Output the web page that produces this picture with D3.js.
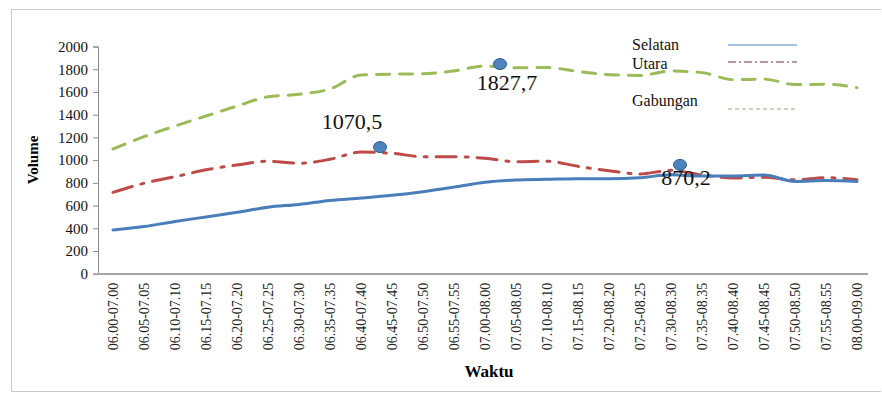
<!DOCTYPE html>
<html><head><meta charset="utf-8">
<script src="https://cdn.jsdelivr.net/npm/d3@7"></script>
<style>body{margin:0;background:#fff}svg{display:block}text{font-family:'Liberation Serif','Times New Roman',serif}</style>
</head><body>
<svg id="c" width="882" height="394"></svg>
<script>
const categories = ["06.00-07.00","06.05-07.05","06.10-07.10","06.15-07.15","06.20-07.20","06.25-07.25","06.30-07.30","06.35-07.35","06.40-07.40","06.45-07.45","06.50-07.50","06.55-07.55","07.00-08.00","07.05-08.05","07.10-08.10","07.15-08.15","07.20-08.20","07.25-08.25","07.30-08.30","07.35-08.35","07.40-08.40","07.45-08.45","07.50-08.50","07.55-08.55","08.00-09.00"];
const selatan  = [385,415,460,500,540,585,610,645,666,690,722,762,805,825,831,836,836,845,870.2,860,860,868,812,820,812];
const utara    = [716,796,854,915,957,990,972,1007,1070.5,1060,1030,1030,1016,986,990,945,907,878,910,870,842,849,826,845,826];
const gabungan = [1098,1206,1300,1388,1476,1558,1579,1626,1749,1757,1760,1785,1827.7,1812,1815,1780,1752,1745,1785,1770,1708,1713,1665,1668,1637];
const yTicks = [0,200,400,600,800,1000,1200,1400,1600,1800,2000];
const seriesNames = ["Selatan","Utara","Gabungan"];
const annotations = [
  {series:"utara", index:8, label:"1070,5"},
  {series:"gabungan", index:12, label:"1827,7"},
  {series:"selatan", index:18, label:"870,2"}
];

const svg = d3.select("#c");
const font = "'Liberation Serif','Times New Roman',serif";
const x = d3.scalePoint().domain(categories).range([113, 857]);
const y = d3.scaleLinear().domain([0, 2000]).range([273.7, 46.5]);

// frame
svg.append("path").attr("d","M881,9.5H11.5V391.5H881").attr("fill","none").attr("stroke","#c8c8c8").attr("stroke-width",1);

// y axis
const ya = svg.append("g").attr("transform","translate(98,0)")
  .call(d3.axisLeft(y).tickValues(yTicks).tickFormat(d3.format("d")).tickSize(5).tickPadding(5));
ya.attr("font-family",null);
ya.select(".domain").attr("stroke","#8a8a8a");
ya.selectAll(".tick line").attr("stroke","#8a8a8a");
ya.selectAll("text").style("font-family",font).style("font-size","15px").attr("fill","#111");

// x axis
const xa = svg.append("g").attr("transform","translate(0,273.7)").call(d3.axisBottom(x).tickSize(0).tickPadding(0));
xa.attr("font-family",null);
xa.select(".domain").remove();
svg.append("line").attr("x1",98).attr("x2",868).attr("y1",274).attr("y2",274).attr("stroke","#a6a6a6").attr("stroke-width",2);
xa.selectAll("text").style("font-family",font).style("font-size","14px").attr("fill","#222")
  .attr("text-anchor","end").attr("transform","translate(0,9) rotate(-90)").attr("x",0).attr("y",0).attr("dy","0.33em");

// axis titles
svg.append("text").attr("transform","translate(38,160) rotate(-90)").attr("text-anchor","middle")
  .style("font-family",font).attr("font-weight","bold").attr("font-size",15).text("Volume");
svg.append("text").attr("x",489).attr("y",377).attr("text-anchor","middle")
  .style("font-family",font).attr("font-weight","bold").attr("font-size",17).text("Waktu");

const data = {selatan, utara, gabungan};
const styles = {
  selatan:{color:"#4a7ebb", dash:null},
  utara:{color:"#be4b48", dash:"20,9,3,9"},
  gabungan:{color:"#9bbb59", dash:"13,10"}
};
const line = d3.line().x((d,i)=>x(categories[i])).y(d=>y(d)).curve(d3.curveMonotoneX);
["gabungan","utara","selatan"].forEach(k=>{
  svg.append("path").datum(data[k]).attr("d",line).attr("fill","none")
    .attr("stroke",styles[k].color).attr("stroke-width",3).attr("stroke-linecap","round")
    .attr("stroke-dasharray",styles[k].dash);
});

// annotations
const dotOff = {utara:[19,-5], gabungan:[15,-2], selatan:[9,-10]};
const labOff = {utara:[-9,-23], gabungan:[22,24], selatan:[15,10]};
annotations.forEach(a=>{
  const px = x(categories[a.index]), py = y(data[a.series][a.index]);
  svg.append("ellipse").attr("cx",px+dotOff[a.series][0]).attr("cy",py+dotOff[a.series][1])
    .attr("rx",6.5).attr("ry",5.5).attr("fill","#4f81bd").attr("stroke","#2f5f96").attr("stroke-width",1);
  svg.append("text").attr("x",px+labOff[a.series][0]).attr("y",py+labOff[a.series][1])
    .attr("text-anchor","middle").style("font-family",font).attr("font-size",22).attr("fill","#111").text(a.label);
});

// legend
const legY = [45, 62, 109];
const legTextY = [50, 69, 106];
const legStroke = [{c:"#4f81bd",d:null},{c:"#6b3a3a",d:"8,3,2,3"},{c:"#9aab78",d:"4,3"}];
seriesNames.forEach((n,i)=>{
  svg.append("text").attr("x",632).attr("y",legTextY[i]).style("font-family",font).attr("font-size",16).attr("fill","#111").text(n);
  svg.append("line").attr("x1",728).attr("x2",797).attr("y1",legY[i]).attr("y2",legY[i])
    .attr("stroke",legStroke[i].c).attr("stroke-width",1.2).attr("stroke-dasharray",legStroke[i].d);
});
</script>
</body></html>
